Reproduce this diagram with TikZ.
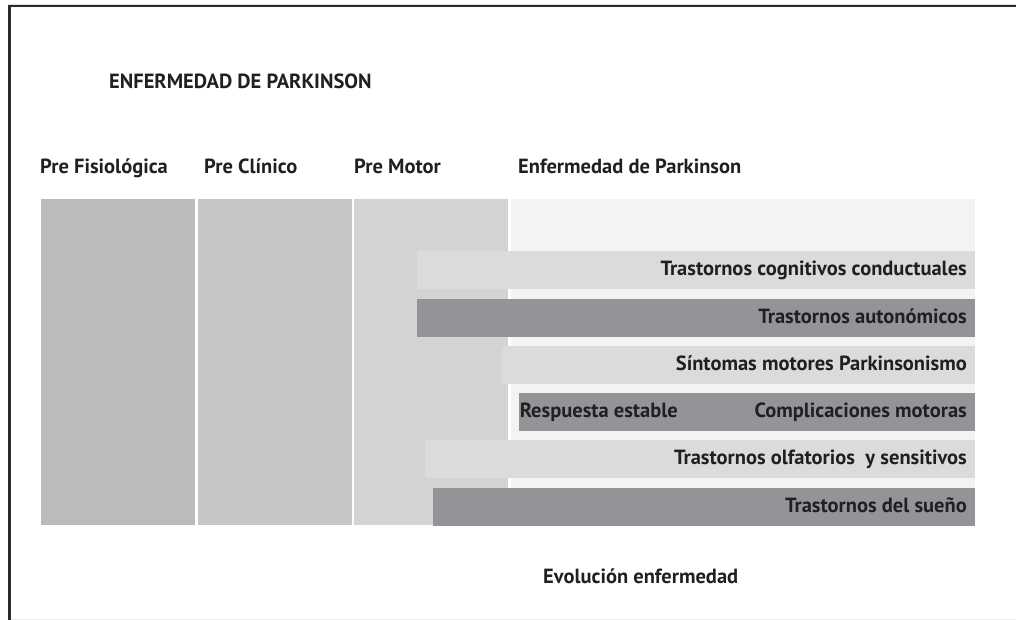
\documentclass[tikz,border=0pt]{standalone}
\usepackage{fontspec}
\setmainfont{PT Sans}
\usepackage{xcolor}
\usepackage{tikz}
\usetikzlibrary{positioning}

\definecolor{ink}{HTML}{231F20}
\definecolor{frameline}{HTML}{2A2A2A}
\definecolor{phaseA}{HTML}{BBBBBB}
\definecolor{phaseB}{HTML}{C6C6C6}
\definecolor{phaseC}{HTML}{D3D3D3}
\definecolor{panel}{HTML}{F3F3F3}
\definecolor{barlight}{HTML}{DADBDD}
\definecolor{bardark}{HTML}{949498}

\tikzset{
  phase/.style={anchor=north west, inner sep=0pt, minimum height=326pt},
  bar/.style={anchor=north east, inner sep=0pt, minimum height=38pt},
  txt/.style={inner sep=0pt, text=ink, font=\bfseries\fontsize{20.5}{23}\selectfont},
  lbl/.style={txt, anchor=base east},
}

\begin{document}
\begin{tikzpicture}[x=1pt, y=-1pt]
  \useasboundingbox (0,0) rectangle (1016,620);
  % frame
  \draw[line width=0.6pt, gray!25] (8,4.5) -- (1016,4.5);
  \draw[line width=2.2pt, frameline] (8,6) -- (1016,6);
  \draw[line width=2.4pt, frameline] (9.5,5) -- (9.5,620);
  \draw[line width=0.8pt, gray!15] (11,619.5) -- (1016,619.5);

  \node[txt, anchor=base west] (title) at (109,89) {ENFERMEDAD DE PARKINSON};

  % phases
  \node[txt, anchor=base west] (hfisio) at (40,174) {Pre Fisiológica};
  \node[txt, anchor=base west] (hclin) at (204,174) {Pre Clínico};
  \node[txt, anchor=base west] (hmotor) at (354,174) {Pre Motor};
  \node[txt, anchor=base west] (hep) at (518,174) {Enfermedad de Parkinson};

  \node[phase, fill=phaseA, minimum width=154pt] (fisio) at (41,199) {};
  \node[phase, fill=phaseB, minimum width=154pt] (clin) at (198,199) {};
  \node[phase, fill=phaseC, minimum width=154pt] (motor) at (354,199) {};
  \node[phase, fill=panel, minimum width=464pt, minimum height=289pt] (ep) at (511,199) {};

  % symptom bars
  \node[bar, fill=barlight, minimum width=558pt] (cog) at (975,251) {};
  \node[bar, fill=bardark, minimum width=558pt] (auto) at (975,299) {};
  \node[bar, fill=barlight, minimum width=473pt] (sint) at (975,346) {};
  \node[bar, fill=bardark, minimum width=456pt] (compl) at (975,393) {};
  \node[bar, fill=barlight, minimum width=550pt] (olf) at (975,440) {};
  \node[bar, fill=bardark, minimum width=542pt] (sueno) at (975,488) {};

  \node[lbl] (cogtxt) at ([xshift=-8pt, yshift=14pt]cog.south east) {Trastornos cognitivos conductuales};
  \node[lbl] (autotxt) at ([xshift=-8pt, yshift=14pt]auto.south east) {Trastornos autonómicos};
  \node[lbl] (sinttxt) at ([xshift=-8pt, yshift=14pt]sint.south east) {Síntomas motores Parkinsonismo};
  \node[lbl] (compltxt) at ([xshift=-8pt, yshift=14pt]compl.south east) {Complicaciones motoras};
  \node[txt, anchor=base west] (resptxt) at ([xshift=1pt, yshift=14pt]compl.south west) {Respuesta estable};
  \node[lbl] (olftxt) at ([xshift=-8pt, yshift=14pt]olf.south east) {Trastornos olfatorios\ \ y sensitivos};
  \node[lbl] (suenotxt) at ([xshift=-8pt, yshift=14pt]sueno.south east) {Trastornos del sueño};

  \node[txt, anchor=base west] (evol) at (543,583) {Evolución enfermedad};
\end{tikzpicture}
\end{document}
